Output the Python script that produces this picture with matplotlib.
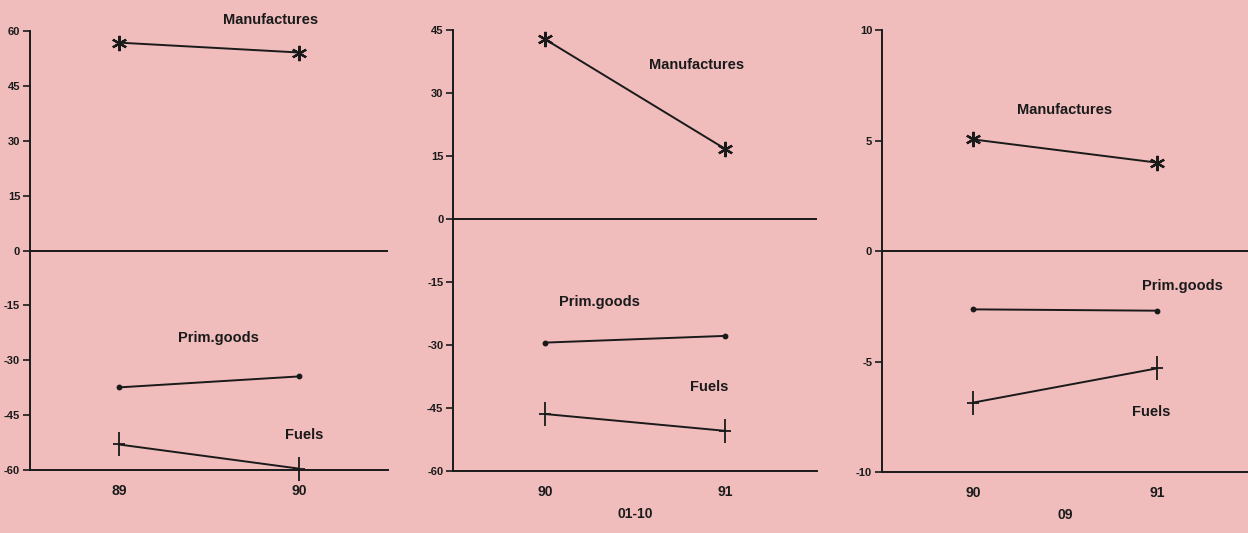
import numpy as np
import matplotlib
matplotlib.use("Agg")
import matplotlib.pyplot as plt

# ── data ─────────────────────────────────────────────────────────────────────

years_a = [89, 90]
manuf_a = [56.8, 54.1]
prim_a  = [-37.4, -34.4]
fuels_a = [-53.0, -59.6]

years_b = [90, 91]
manuf_b = [42.8, 16.7]
prim_b  = [-29.4, -27.8]
fuels_b = [-46.4, -50.4]

years_c = [90, 91]
manuf_c = [5.05, 4.0]
prim_c  = [-2.64, -2.70]
fuels_c = [-6.86, -5.31]

yticks_a = [60, 45, 30, 15, 0, -15, -30, -45, -60]
yticks_b = [45, 30, 15, 0, -15, -30, -45, -60]
yticks_c = [10, 5, 0, -5, -10]

xlabels = ['', '01-10', '09']

BG   = '#f0bcbc'
INK  = '#1a1a1a'
plt.rcParams['font.family'] = ['Liberation Sans', 'DejaVu Sans']

fig = plt.figure(figsize=(12.48, 5.33), dpi=100, facecolor=BG)

panels = [
    dict(rect=[0.024, 0.118, 0.287, 0.824], years=years_a,
         m=manuf_a, p=prim_a, f=fuels_a, yt=yticks_a, ylim=(-60, 60),
         xlim=(88.506, 90.494),
         lab={'Manufactures': (89.84, 63.0), 'Prim.goods': (89.55, -24.0),
              'Fuels': (90.03, -50.5)}),
    dict(rect=[0.363, 0.116, 0.2917, 0.8277], years=years_b,
         m=manuf_b, p=prim_b, f=fuels_b, yt=yticks_b, ylim=(-60, 45),
         xlim=(89.489, 91.51),
         lab={'Manufactures': (90.84, 36.6), 'Prim.goods': (90.30, -19.8),
              'Fuels': (90.91, -40.0)}),
    dict(rect=[0.7067, 0.1144, 0.2933, 0.8293], years=years_c,
         m=manuf_c, p=prim_c, f=fuels_c, yt=yticks_c, ylim=(-10, 10),
         xlim=(89.505, 91.495),
         lab={'Manufactures': (90.50, 6.4), 'Prim.goods': (91.14, -1.6),
              'Fuels': (90.97, -7.3)}),
]

for i, pn in enumerate(panels):
    ax = fig.add_axes(pn['rect'])
    ax.set_facecolor(BG)
    yrs = pn['years']

    ax.plot(yrs, pn['m'], color=INK, lw=1.4, marker=(6, 2, 0),
            ms=11, mew=1.6, clip_on=False)
    ax.plot(yrs, pn['p'], color=INK, lw=1.4, marker='o', ms=3.2,
            clip_on=False)
    ax.plot(yrs, pn['f'], color=INK, lw=1.4, marker='|', ms=17,
            mew=1.3, clip_on=False)
    # short horizontal stroke of the plus markers
    ax.plot(yrs, pn['f'], color=INK, lw=0, marker='_', ms=8, mew=1.3,
            clip_on=False)

    ax.axhline(0, color=INK, lw=1.4)

    for name, (x, y) in pn['lab'].items():
        ax.text(x, y, name, ha='center', va='center', fontsize=10.5,
                fontweight='bold', color=INK)

    ax.set_xlim(*pn['xlim'])
    ax.set_ylim(*pn['ylim'])
    ax.set_yticks(pn['yt'])
    ax.set_yticklabels([str(t) for t in pn['yt']])
    ax.set_xticks(yrs)
    ax.set_xticklabels([str(y) for y in yrs])

    ax.tick_params(axis='y', direction='out', length=5, width=1.2,
                   labelsize=8, pad=2, colors=INK)
    ax.tick_params(axis='x', length=0, labelsize=10, pad=10, colors=INK)
    for lbl in ax.get_xticklabels() + ax.get_yticklabels():
        lbl.set_fontweight('bold')

    for side in ('top', 'right'):
        ax.spines[side].set_visible(False)
    for side in ('left', 'bottom'):
        ax.spines[side].set_linewidth(1.4)
        ax.spines[side].set_color(INK)
    ax.spines['left'].set_bounds(*pn['ylim'])

    if xlabels[i]:
        ax.set_xlabel(xlabels[i], fontsize=10, fontweight='bold',
                      color=INK, labelpad=6)

fig.savefig('out.png', dpi=100, facecolor=BG)
print("Saved out.png")
